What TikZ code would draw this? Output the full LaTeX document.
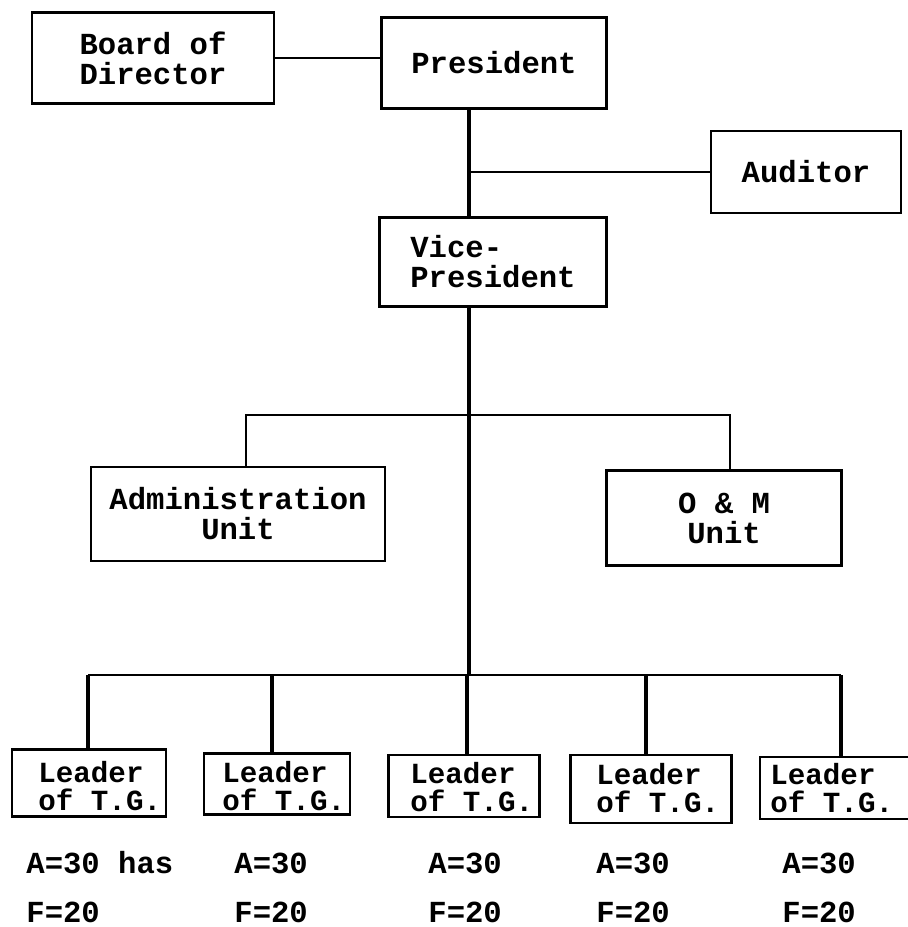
\documentclass[tikz,border=0pt]{standalone}
\usepackage{fontspec}
\setmonofont{Liberation Mono}
\begin{document}
\begin{tikzpicture}[x=0.5pt,y=-0.5pt,
  every node/.style={font=\ttfamily\bfseries\fontsize{15.3}{15}\selectfont},
  box/.style={draw, line width=1.4pt, inner sep=0pt, align=center},
  lbox/.style={draw, line width=1.4pt, inner sep=0pt, align=left},
  tgbox/.style={draw, line width=1.4pt, inner sep=0pt},
  tgtext/.style={anchor=west, inner sep=0pt, align=left,
    font=\ttfamily\bfseries\fontsize{14.6}{14.4}\selectfont},
  thinline/.style={line width=0.8pt},
  trunk/.style={line width=1.8pt},
  bus/.style={line width=1.3pt},
  lbl/.style={anchor=west, inner sep=0pt}]
\useasboundingbox (0,0) rectangle (908,927);
% boxes
\node[box, minimum width=121pt, minimum height=45.5pt] (board) at (153,58) {Board of\\Director};
\node[box, minimum width=112.5pt, minimum height=45.5pt] (pres) at (494,63) {President};
\node[box, minimum width=95pt, minimum height=41pt] (aud) at (806,172) {Auditor};
\node[lbox, minimum width=113.5pt, minimum height=44.5pt] (vp) at (493,262) {Vice-\\President};
\node[box, minimum width=147pt, minimum height=47pt] (admin) at (238,514) {Administration\\Unit};
\node[box, minimum width=117.5pt, minimum height=47.5pt] (om) at (724,518) {O \& M\\Unit};
% team group leader boxes and their texts
\node[tgbox, minimum width=77pt, minimum height=33.5pt] (l1) at (89,783) {};
\node[tgbox, minimum width=73pt, minimum height=30.5pt] (l2) at (277,784) {};
\node[tgbox, minimum width=75.5pt, minimum height=31pt] (l3) at (464,786) {};
\node[tgbox, minimum width=80.5pt, minimum height=34pt] (l4) at (651,789) {};
\node[tgbox, minimum width=75pt, minimum height=31pt] (l5) at (835,788) {};
\node[tgtext] (l1t) at (38,786) {Leader\\of T.G.};
\node[tgtext] (l2t) at (222,786) {Leader\\of T.G.};
\node[tgtext] (l3t) at (410,787) {Leader\\of T.G.};
\node[tgtext] (l4t) at (596,788) {Leader\\of T.G.};
\node[tgtext] (l5t) at (770,788) {Leader\\of T.G.};
% coordinates
\coordinate (tx) at (469,0);
\coordinate (a1) at (246,415);
\coordinate (a2) at (730,415);
\coordinate (b1) at (88,675);
\coordinate (b2) at (272,675);
\coordinate (b3) at (467,675);
\coordinate (b4) at (646,675);
\coordinate (b5) at (841,675);
% connectors
\draw[thinline] (board.east) -- (board.east -| pres.west);
\draw[trunk] (tx |- pres.south) -- (tx |- vp.north);
\draw[thinline] (tx |- aud.west) -- (aud.west);
\draw[trunk] (tx |- vp.south) -- (tx |- b3);
\draw[bus] (a1 |- admin.north) -- (a1) -- (a2) -- (a2 |- om.north);
\draw[bus] (b1) -- (b5);
\draw[trunk] (b1) -- (b1 |- l1.north);
\draw[trunk] (b2) -- (b2 |- l2.north);
\draw[trunk] (b3) -- (b3 |- l3.north);
\draw[trunk] (b4) -- (b4 |- l4.north);
\draw[trunk] (b5) -- (b5 |- l5.north);
% labels
\node[lbl] (t1a) at (26,863) {A=30 has};
\node[lbl] (t2a) at (234,863) {A=30};
\node[lbl] (t3a) at (428,863) {A=30};
\node[lbl] (t4a) at (596,863) {A=30};
\node[lbl] (t5a) at (782,863) {A=30};
\node[lbl] (t1f) at (26,912) {F=20};
\node[lbl] (t2f) at (234,912) {F=20};
\node[lbl] (t3f) at (428,912) {F=20};
\node[lbl] (t4f) at (596,912) {F=20};
\node[lbl] (t5f) at (782,912) {F=20};
\end{tikzpicture}
\end{document}
